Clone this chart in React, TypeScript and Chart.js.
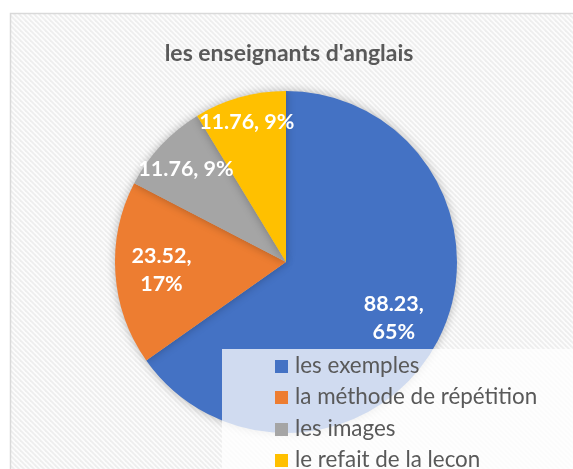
import React, { useEffect, useRef } from "react";
import { Chart, registerables } from "chart.js";

Chart.register(...registerables);

const categories = ["les exemples", "la méthode de répétition", "les images", "le refait de la lecon"];
const values = [88.23, 23.52, 11.76, 11.76];
const percentLabels = ["65%", "17%", "9%", "9%"];
const colors = ["#4472C4", "#ED7D31", "#A5A5A5", "#FFC000"];
const titleText = "les enseignants d'anglais";

const FONT = "Lato, 'Open Sans', sans-serif";

function makePattern(ctx: CanvasRenderingContext2D) {
  const c = document.createElement("canvas");
  c.width = 5;
  c.height = 5;
  const g = c.getContext("2d")!;
  g.fillStyle = "#fcfcfc";
  g.fillRect(0, 0, 5, 5);
  g.strokeStyle = "#eeeeee";
  g.lineWidth = 1.8;
  for (const off of [-5, 0, 5]) {
    g.beginPath();
    g.moveTo(off - 1, -1);
    g.lineTo(off + 6, 6);
    g.stroke();
  }
  return ctx.createPattern(c, "repeat");
}

const framePlugin = {
  id: "frame",
  beforeDraw(chart: any) {
    const ctx = chart.ctx as CanvasRenderingContext2D;
    const W = chart.width;
    const H = chart.height;
    ctx.save();
    ctx.fillStyle = "#ffffff";
    ctx.fillRect(0, 0, W, H);
    const pat = makePattern(ctx);
    if (pat) ctx.fillStyle = pat;
    ctx.fillRect(11, 14, W, H);
    ctx.strokeStyle = "#d9d9d9";
    ctx.lineWidth = 1.5;
    ctx.strokeRect(10.5, 13.5, W + 20, H + 20);
    ctx.fillStyle = "#595959";
    ctx.font = `bold 23px ${FONT}`;
    ctx.textAlign = "center";
    ctx.textBaseline = "alphabetic";
    ctx.fillText(titleText, 289, 61);
    ctx.restore();
  },
  beforeDatasetsDraw(chart: any) {
    const ctx = chart.ctx as CanvasRenderingContext2D;
    ctx.save();
    ctx.shadowColor = "rgba(0,0,0,0.28)";
    ctx.shadowBlur = 10;
    ctx.shadowOffsetX = 0;
    ctx.shadowOffsetY = 0;
  },
  afterDatasetsDraw(chart: any) {
    const ctx = chart.ctx as CanvasRenderingContext2D;
    ctx.restore();
    const fractions = [0.71, 0.73, 0.8, 0.85];
    const twoLine = [true, true, false, false];
    const meta = chart.getDatasetMeta(0);
    ctx.save();
    ctx.fillStyle = "#ffffff";
    ctx.font = `bold 21.5px ${FONT}`;
    ctx.textAlign = "center";
    ctx.textBaseline = "middle";
    meta.data.forEach((arc: any, i: number) => {
      const p = arc.getProps(["x", "y", "startAngle", "endAngle", "outerRadius"], true);
      const mid = (p.startAngle + p.endAngle) / 2;
      const r = p.outerRadius * fractions[i];
      const x = p.x + Math.cos(mid) * r;
      const y = p.y + Math.sin(mid) * r;
      const v = values[i].toFixed(2);
      if (twoLine[i]) {
        ctx.fillText(`${v},`, x, y - 14);
        ctx.fillText(percentLabels[i], x, y + 14);
      } else {
        ctx.fillText(`${v}, ${percentLabels[i]}`, x, y);
      }
    });
    ctx.restore();
  },
  afterDraw(chart: any) {
    const ctx = chart.ctx as CanvasRenderingContext2D;
    ctx.save();
    ctx.fillStyle = "rgba(255,255,255,0.75)";
    ctx.fillRect(222, 349, chart.width, chart.height);
    ctx.font = `22.4px ${FONT}`;
    ctx.textAlign = "left";
    ctx.textBaseline = "middle";
    const ys = [366, 397, 429, 460];
    categories.forEach((c, i) => {
      ctx.fillStyle = colors[i];
      ctx.fillRect(275, ys[i] - 6, 13, 13);
      ctx.fillStyle = "#595959";
      ctx.fillText(c, 295, ys[i]);
    });
    ctx.restore();
  },
};

export default function App() {
  const ref = useRef<HTMLCanvasElement>(null);
  useEffect(() => {
    document.body.style.margin = "0";
    const chart = new Chart(ref.current!, {
      type: "pie",
      data: {
        labels: categories,
        datasets: [
          {
            data: values,
            backgroundColor: colors,
            borderWidth: 0,
            hoverOffset: 0,
          },
        ],
      },
      options: {
        animation: false,
        responsive: false,
        events: [],
        layout: { padding: { left: 115, right: 116, top: 91, bottom: 36 } },
        plugins: {
          legend: { display: false },
          title: { display: false },
          tooltip: { enabled: false },
        },
      },
      plugins: [framePlugin],
    });
    return () => chart.destroy();
  }, []);
  return (
    <div style={{ position: "absolute", left: 0, top: 0, width: 573, height: 469 }}>
      <canvas ref={ref} width={573} height={469} style={{ width: 573, height: 469 }} />
    </div>
  );
}
